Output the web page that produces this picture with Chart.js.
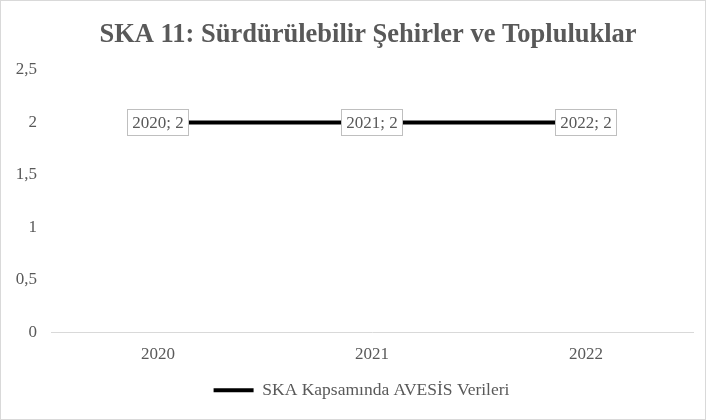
<!DOCTYPE html>
<html>
<head>
<meta charset="utf-8">
<script src="https://cdn.jsdelivr.net/npm/chart.js@4/dist/chart.umd.min.js"></script>
<style>
  html, body { margin: 0; padding: 0; background: #fff; overflow: hidden; }
  canvas { display: block; }
</style>
</head>
<body>
<canvas id="myChart" width="706" height="420"></canvas>
<script>
const years = ['2020', '2021', '2022']
const values = [2, 2, 2]
const yTicks = [0, 0.5, 1, 1.5, 2, 2.5]
const seriesName = 'SKA Kapsamında AVESİS Verileri'
const chartTitle = 'SKA 11: Sürdürülebilir Şehirler ve Topluluklar'

const grey = '#595959'
const serif = '"Liberation Serif", "Times New Roman", serif'

// title centred over the plot area, like Excel does, plus the outer frame
const titlePlugin = {
  id: 'plotTitle',
  afterLayout(chart) {
    // legend sits a bit right of centre in the original
    chart.legend.left += 15
    chart.legend.right += 15
  },
  afterDraw(chart) {
    const c = chart.ctx, a = chart.chartArea
    c.save()
    c.strokeStyle = '#d9d9d9'
    c.lineWidth = 1
    c.strokeRect(0.5, 0.5, chart.width - 1, chart.height - 1)
    c.font = 'bold 26.5px ' + serif
    c.fillStyle = grey
    c.textAlign = 'center'
    c.textBaseline = 'alphabetic'
    c.fillText(chartTitle, (a.left + a.right) / 2 - 4, 42)
    c.restore()
  }
}

// boxed "year; value" labels sitting on top of each point
const boxLabels = {
  id: 'boxLabels',
  afterDatasetsDraw(chart) {
    const c = chart.ctx
    const meta = chart.getDatasetMeta(0)
    c.save()
    c.font = '17px ' + serif
    c.textAlign = 'center'
    c.textBaseline = 'middle'
    meta.data.forEach((pt, i) => {
      const txt = years[i] + '; ' + String(values[i]).replace('.', ',')
      const w = c.measureText(txt).width + 10
      const h = 26
      c.fillStyle = '#fff'
      c.fillRect(pt.x - w / 2, pt.y - h / 2, w, h)
      c.strokeStyle = '#bfbfbf'
      c.lineWidth = 1
      c.strokeRect(Math.round(pt.x - w / 2) + 0.5, Math.round(pt.y - h / 2) + 0.5, Math.round(w), h)
      c.fillStyle = grey
      c.fillText(txt, pt.x, pt.y + 1)
    })
    c.restore()
  }
}

const ctx = document.getElementById('myChart').getContext('2d')
const chart = new Chart(ctx, {
  type: 'line',
  data: {
    labels: years,
    datasets: [
      {
        label: seriesName,
        data: values,
        borderColor: '#000',
        backgroundColor: '#000',
        borderWidth: 4,
        pointRadius: 0,
        tension: 0
      }
    ]
  },
  options: {
    responsive: false,
    animation: false,
    devicePixelRatio: 1,
    layout: { padding: { top: 70, right: 13, bottom: 11, left: 0 } },
    scales: {
      x: {
        offset: true,
        grid: { display: false, drawTicks: false },
        border: { display: true, color: '#d9d9d9', width: 1 },
        ticks: { color: grey, font: { family: serif, size: 17 }, padding: 12 },
        afterFit(s) { s.height = 39 }
      },
      y: {
        min: 0,
        max: 2.5,
        grid: { display: false, drawTicks: false },
        border: { display: false },
        afterBuildTicks(s) { s.ticks = yTicks.map(v => ({ value: v })) },
        ticks: {
          color: grey,
          font: { family: serif, size: 17 },
          padding: 14,
          callback: v => String(v).replace('.', ',')
        },
        afterFit(s) { s.width = 51 }
      }
    },
    plugins: {
      title: { display: false },
      tooltip: { enabled: false },
      legend: {
        position: 'bottom',
        labels: {
          color: grey,
          font: { family: serif, size: 17.5 },
          usePointStyle: true,
          pointStyle: 'line',
          pointStyleWidth: 40,
          boxWidth: 40,
          boxHeight: 17,
          padding: 10
        }
      }
    }
  },
  plugins: [titlePlugin, boxLabels]
})
</script>
</body>
</html>
